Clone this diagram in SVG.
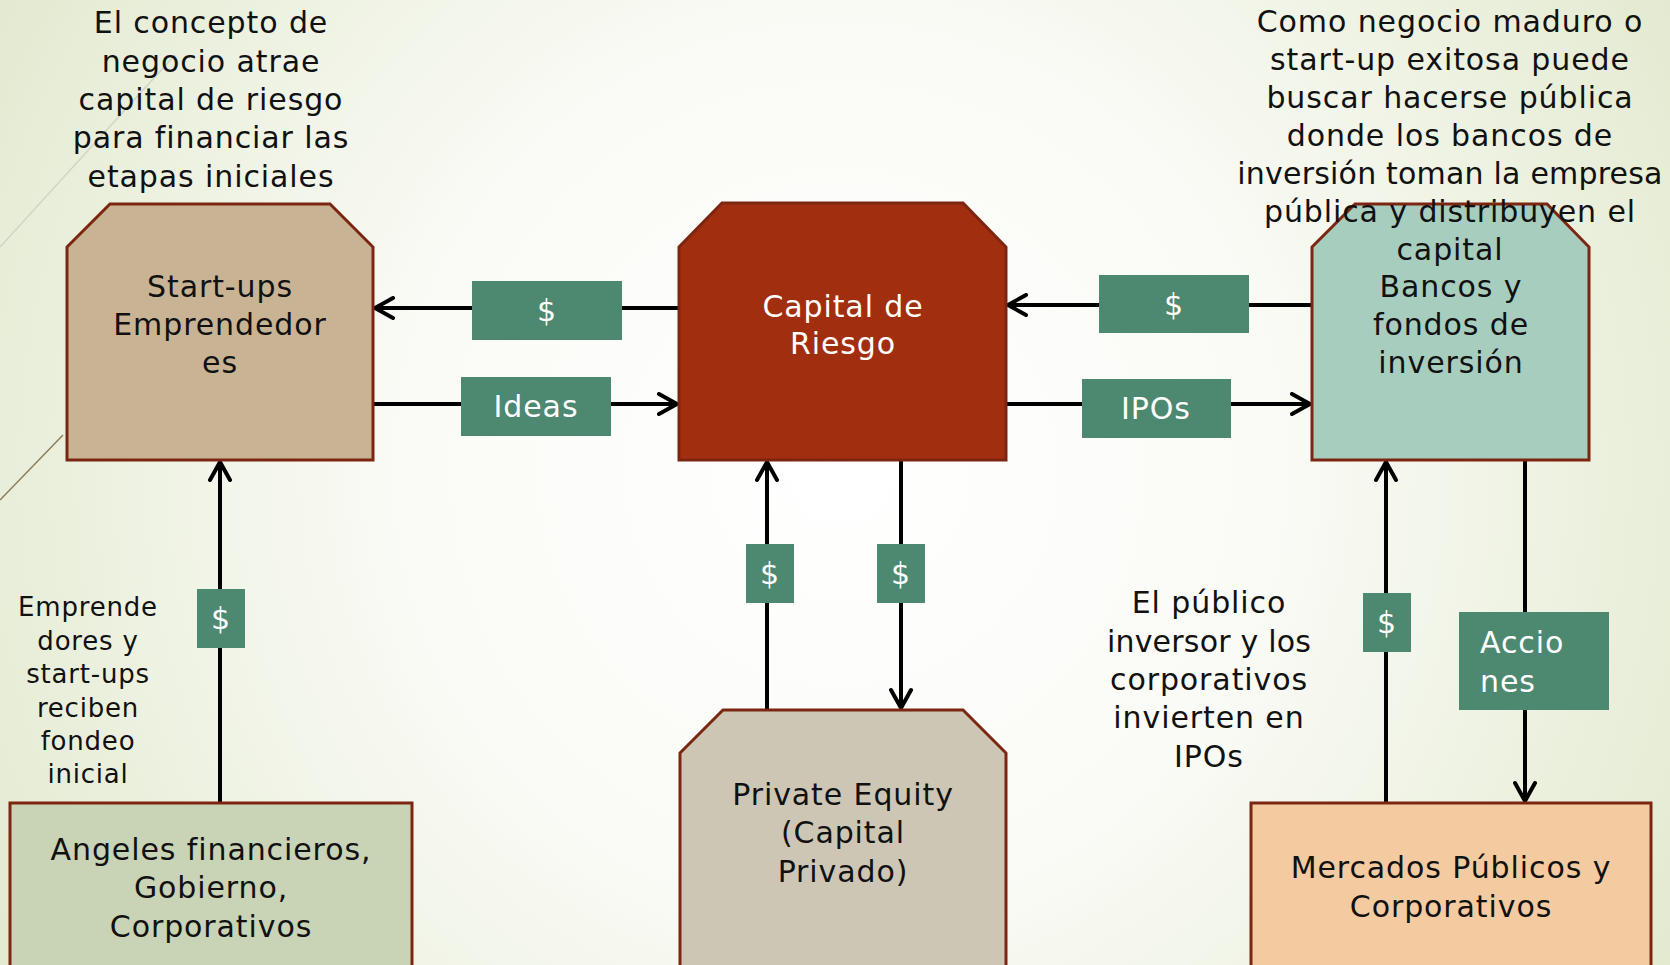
<svg xmlns="http://www.w3.org/2000/svg" width="1670" height="965" viewBox="0 0 1670 965">
  <defs>
    <radialGradient id="bg" cx="840" cy="470" r="960" gradientUnits="userSpaceOnUse">
      <stop offset="0" stop-color="#ffffff"/>
      <stop offset="0.45" stop-color="#fafbf6"/>
      <stop offset="1" stop-color="#e3ead0"/>
    </radialGradient>
    <marker id="arr" viewBox="0 0 24 24" refX="21" refY="12" markerWidth="24" markerHeight="24" markerUnits="userSpaceOnUse" orient="auto">
      <path d="M3,2 L21,12 L3,22" fill="none" stroke="#000" stroke-width="4" stroke-linecap="round" stroke-linejoin="round"/>
    </marker>
    <style>
      .node { stroke: #7c2612; stroke-width: 3; }
      .txt { font-family: "DejaVu Sans", "Liberation Sans", sans-serif; font-size: 30px; letter-spacing: 0.9px; fill: #111; text-anchor: middle; }
      .small { font-size: 26px; letter-spacing: 0.8px; }
      .tight { letter-spacing: 0.2px; }
      .wt { fill: #ffffff; }
      .lbl { fill: #4d8870; }
      .conn { stroke: #000; stroke-width: 4; fill: none; marker-end: url(#arr); }
    </style>
  </defs>

  <rect x="0" y="0" width="1670" height="965" fill="url(#bg)"/>
  <line x1="0" y1="247" x2="175" y2="55" stroke="#d2d3c4" stroke-width="1.5"/>
  <line x1="0" y1="500" x2="63" y2="435" stroke="#8a7c5e" stroke-width="1.5"/>

  <g id="connectors">
    <line class="conn" x1="679" y1="308" x2="375" y2="308"/>
    <line class="conn" x1="373" y1="404" x2="677" y2="404"/>
    <line class="conn" x1="1312" y1="305" x2="1008" y2="305"/>
    <line class="conn" x1="1006" y1="404" x2="1310" y2="404"/>
    <line class="conn" x1="220" y1="803" x2="220" y2="462"/>
    <line class="conn" x1="767" y1="710" x2="767" y2="462"/>
    <line class="conn" x1="901" y1="460" x2="901" y2="708"/>
    <line class="conn" x1="1386" y1="803" x2="1386" y2="462"/>
    <line class="conn" x1="1525" y1="460" x2="1525" y2="801"/>

    <g id="label-dollar-1"><rect class="lbl" x="472" y="281" width="150" height="59"/><text class="txt wt" x="547" y="321">$</text></g>
    <g id="label-ideas"><rect class="lbl" x="461" y="377" width="150" height="59"/><text class="txt wt" x="536" y="417">Ideas</text></g>
    <g id="label-dollar-2"><rect class="lbl" x="1099" y="275" width="150" height="58"/><text class="txt wt" x="1174" y="315">$</text></g>
    <g id="label-ipos"><rect class="lbl" x="1082" y="379" width="149" height="59"/><text class="txt wt" x="1156" y="419">IPOs</text></g>
    <g id="label-dollar-3"><rect class="lbl" x="197" y="589" width="48" height="59"/><text class="txt wt" x="221" y="629">$</text></g>
    <g id="label-dollar-4"><rect class="lbl" x="746" y="544" width="48" height="59"/><text class="txt wt" x="770" y="584">$</text></g>
    <g id="label-dollar-5"><rect class="lbl" x="877" y="544" width="48" height="59"/><text class="txt wt" x="901" y="584">$</text></g>
    <g id="label-dollar-6"><rect class="lbl" x="1363" y="593" width="48" height="59"/><text class="txt wt" x="1387" y="633">$</text></g>
    <g id="label-acciones"><rect class="lbl" x="1459" y="612" width="150" height="98"/><text class="txt wt" x="1480" y="653" style="text-anchor:start">Accio</text><text class="txt wt" x="1480" y="692" style="text-anchor:start">nes</text></g>
  </g>

  <g id="startups">
    <polygon class="node" fill="#c8b494" points="67,247 110,204 330,204 373,247 373,460 67,460"/>
    <text class="txt" x="220" y="297">Start-ups</text>
    <text class="txt" x="220" y="335">Emprendedor</text>
    <text class="txt" x="220" y="373">es</text>
  </g>

  <g id="capital-riesgo">
    <polygon class="node" fill="#a22e10" points="679,247 722,203 963,203 1006,247 1006,460 679,460"/>
    <text class="txt wt" x="843" y="317">Capital de</text>
    <text class="txt wt" x="843" y="354">Riesgo</text>
  </g>

  <g id="bancos">
    <polygon class="node" fill="#a7cdbf" points="1312,247 1355,204 1547,204 1589,247 1589,460 1312,460"/>
    <text class="txt" x="1451" y="297">Bancos y</text>
    <text class="txt" x="1451" y="335">fondos de</text>
    <text class="txt" x="1451" y="373">inversión</text>
  </g>

  <g id="angeles">
    <rect class="node" fill="#c9d3b6" x="10" y="803" width="402" height="180"/>
    <text class="txt" x="211" y="860">Angeles financieros,</text>
    <text class="txt" x="211" y="898">Gobierno,</text>
    <text class="txt" x="211" y="937">Corporativos</text>
  </g>

  <g id="private-equity">
    <polygon class="node" fill="#cdc6b5" points="680,753 723,710 963,710 1006,753 1006,985 680,985"/>
    <text class="txt" x="843" y="805">Private Equity</text>
    <text class="txt" x="843" y="843">(Capital</text>
    <text class="txt" x="843" y="882">Privado)</text>
  </g>

  <g id="mercados">
    <rect class="node" fill="#f4caa0" x="1251" y="803" width="400" height="180"/>
    <text class="txt" x="1451" y="878">Mercados Públicos y</text>
    <text class="txt" x="1451" y="917">Corporativos</text>
  </g>

  <g id="caption-left-top">
    <text class="txt" x="211" y="33">El concepto de</text>
    <text class="txt" x="211" y="72">negocio atrae</text>
    <text class="txt" x="211" y="110">capital de riesgo</text>
    <text class="txt" x="211" y="148">para financiar las</text>
    <text class="txt" x="211" y="187">etapas iniciales</text>
  </g>

  <g id="caption-right-top">
    <text class="txt" x="1450" y="32">Como negocio maduro o</text>
    <text class="txt" x="1450" y="70">start-up exitosa puede</text>
    <text class="txt" x="1450" y="108">buscar hacerse pública</text>
    <text class="txt" x="1450" y="146">donde los bancos de</text>
    <text class="txt tight" x="1450" y="184">inversión toman la empresa</text>
    <text class="txt" x="1450" y="222">pública y distribuyen el</text>
    <text class="txt" x="1450" y="260">capital</text>
  </g>

  <g id="caption-left">
    <text class="txt small" x="88" y="616">Emprende</text>
    <text class="txt small" x="88" y="650">dores y</text>
    <text class="txt small" x="88" y="683">start-ups</text>
    <text class="txt small" x="88" y="717">reciben</text>
    <text class="txt small" x="88" y="750">fondeo</text>
    <text class="txt small" x="88" y="783">inicial</text>
  </g>

  <g id="caption-right">
    <text class="txt" x="1209" y="613">El público</text>
    <text class="txt tight" x="1209" y="652">inversor y los</text>
    <text class="txt" x="1209" y="690">corporativos</text>
    <text class="txt" x="1209" y="728">invierten en</text>
    <text class="txt" x="1209" y="767">IPOs</text>
  </g>
</svg>
